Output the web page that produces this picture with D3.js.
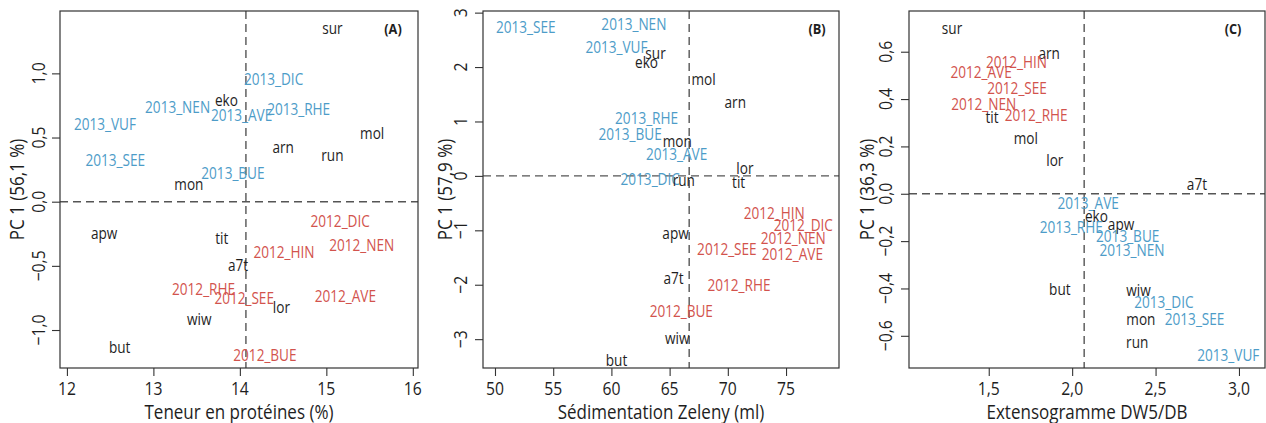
<!DOCTYPE html>
<html>
<head>
<meta charset="utf-8">
<script src="https://cdn.jsdelivr.net/npm/d3@7"></script>
<style>
  html, body { margin: 0; padding: 0; background: #fff; }
  svg { display: block; font-family: "Open Sans", sans-serif; }
</style>
</head>
<body>
<svg id="chart" width="1266" height="423"></svg>
<script>
// label, x, y  (PC 1 score)
const pointsA = [
  ["sur", 15.07, 1.358], ["2013_DIC", 14.39, 0.963], ["eko", 13.845, 0.797],
  ["2013_NEN", 13.28, 0.745], ["2013_AVE", 14.02, 0.683], ["2013_RHE", 14.68, 0.724],
  ["2013_VUF", 12.44, 0.61], ["mol", 15.53, 0.54], ["arn", 14.5, 0.428],
  ["run", 15.07, 0.366], ["2013_SEE", 12.56, 0.332], ["2013_BUE", 13.92, 0.225],
  ["mon", 13.41, 0.145], ["2012_DIC", 15.16, -0.148], ["apw", 12.43, -0.239],
  ["tit", 13.79, -0.28], ["2012_NEN", 15.41, -0.332], ["2012_HIN", 14.51, -0.39],
  ["a7t", 13.98, -0.493], ["2012_RHE", 13.58, -0.675], ["2012_SEE", 14.05, -0.748],
  ["2012_AVE", 15.22, -0.733], ["lor", 14.48, -0.818], ["wiw", 13.53, -0.909],
  ["but", 12.61, -1.13], ["2012_BUE", 14.29, -1.19]
];
const pointsB = [
  ["2013_SEE", 52.64, 2.75], ["2013_NEN", 61.93, 2.805], ["2013_VUF", 60.44, 2.38],
  ["sur", 63.79, 2.26], ["eko", 63.02, 2.11], ["mol", 67.92, 1.78],
  ["arn", 70.64, 1.37], ["2013_RHE", 63.02, 1.077], ["2013_BUE", 61.61, 0.77],
  ["mon", 65.65, 0.65], ["2013_AVE", 65.6, 0.415], ["lor", 71.47, 0.147],
  ["2013_DIC", 63.33, -0.055], ["run", 66.22, -0.068], ["tit", 70.93, -0.105],
  ["2012_HIN", 73.99, -0.669], ["2012_DIC", 76.48, -0.895], ["apw", 65.51, -1.048],
  ["2012_NEN", 75.62, -1.14], ["2012_SEE", 69.92, -1.33], ["2012_AVE", 75.54, -1.434],
  ["a7t", 65.34, -1.875], ["2012_RHE", 70.96, -1.998], ["2012_BUE", 66.0, -2.476],
  ["wiw", 65.65, -2.967], ["but", 60.44, -3.377]
];
const pointsC = [
  ["sur", 1.28, 0.703], ["arn", 1.862, 0.597], ["2012_HIN", 1.666, 0.558],
  ["2012_AVE", 1.454, 0.515], ["2012_SEE", 1.67, 0.447], ["2012_NEN", 1.47, 0.381],
  ["tit", 1.52, 0.325], ["2012_RHE", 1.784, 0.335], ["mol", 1.722, 0.236],
  ["lor", 1.896, 0.145], ["a7t", 2.748, 0.042], ["2013_AVE", 2.096, -0.038],
  ["eko", 2.145, -0.092], ["apw", 2.293, -0.127], ["2013_RHE", 1.995, -0.137],
  ["2013_BUE", 2.333, -0.177], ["2013_NEN", 2.359, -0.237], ["but", 1.926, -0.4],
  ["wiw", 2.398, -0.405], ["2013_DIC", 2.55, -0.456], ["mon", 2.412, -0.525],
  ["2013_SEE", 2.734, -0.529], ["run", 2.39, -0.625], ["2013_VUF", 2.936, -0.678]
];

// reference lines (mean of x, zero on PC 1)
const meansX = [14.07, 66.68, 2.072];

const ticksAX = [12, 13, 14, 15, 16];
const ticksAY = [-1.0, -0.5, 0.0, 0.5, 1.0];
const ticksBX = [50, 55, 60, 65, 70, 75];
const ticksBY = [-3, -2, -1, 0, 1, 2, 3];
const ticksCX = [1.5, 2.0, 2.5, 3.0];
const ticksCY = [-0.6, -0.4, -0.2, 0.0, 0.2, 0.4, 0.6];

const xTitles = ["Teneur en protéines (%)", "Sédimentation Zeleny (ml)", "Extensogramme DW5/DB"];
const yTitles = ["PC 1 (56,1 %)", "PC 1 (57,9 %)", "PC 1 (36,3 %)"];
const panelTags = ["(A)", "(B)", "(C)"];

const RED = "#d2534d";
const BLUE = "#4d9cc8";
const DARK = "#1e1e1e";
const SX = 0.85; // the original font is a narrow sans

const svg = d3.select("#chart");

function colorOf(name) {
  if (name.startsWith("2012")) return RED;
  if (name.startsWith("2013")) return BLUE;
  return DARK;
}

function label(g, x, y, s, size, opts = {}) {
  const rot = opts.rotate ? " rotate(-90)" : "";
  return g.append("text")
    .attr("transform", `translate(${x},${y})${rot} scale(${SX},1)`)
    .attr("text-anchor", opts.anchor || "middle")
    .attr("dominant-baseline", "central")
    .attr("font-size", size)
    .attr("font-weight", opts.bold ? "bold" : null)
    .attr("fill", opts.fill || DARK)
    .text(s);
}

const fmt1 = (d) => d3.format(".1f")(d).replace(".", ",").replace("-", "\u2212");
const fmt0 = (d) => String(d).replace("-", "\u2212");

const panels = [
  { pts: pointsA, left: 60, right: 418, xd: [11.92, 16.06], yd: [-1.296, 1.486],
    tx: ticksAX, ty: ticksAY, fx: fmt0, fy: fmt1, tickOff: 22, titleOff: 44, tagX: 393 },
  { pts: pointsB, left: 483, right: 839, xd: [48.97, 79.55], yd: [-3.53, 3.03],
    tx: ticksBX, ty: ticksBY, fx: fmt0, fy: fmt0, tickOff: 23, titleOff: 39, tagX: 817 },
  { pts: pointsC, left: 909, right: 1265, xd: [1.022, 3.156], yd: [-0.736, 0.772],
    tx: ticksCX, ty: ticksCY, fx: fmt1, fy: fmt1, tickOff: 24, titleOff: 43, tagX: 1233 }
];

const plotTop = 11, plotBottom = 368;

panels.forEach((p, i) => {
  const g = svg.append("g");
  const x = d3.scaleLinear().domain(p.xd).range([p.left, p.right]);
  const y = d3.scaleLinear().domain(p.yd).range([plotBottom, plotTop]);

  // dashed reference lines
  g.append("line")
    .attr("x1", x(meansX[i])).attr("x2", x(meansX[i]))
    .attr("y1", plotTop).attr("y2", plotBottom)
    .attr("stroke", "#555").attr("stroke-width", 1.4).attr("stroke-dasharray", "8,5");
  g.append("line")
    .attr("x1", p.left).attr("x2", p.right)
    .attr("y1", y(0)).attr("y2", y(0))
    .attr("stroke", "#555").attr("stroke-width", 1.4).attr("stroke-dasharray", "8,5");

  // box
  g.append("rect")
    .attr("x", p.left).attr("y", plotTop)
    .attr("width", p.right - p.left).attr("height", plotBottom - plotTop)
    .attr("fill", "none").attr("stroke", "#333").attr("stroke-width", 1.2);

  // axes (ticks only, labels drawn below so they can be narrowed)
  g.append("g")
    .attr("transform", `translate(0,${plotBottom})`)
    .call(d3.axisBottom(x).tickValues(p.tx).tickSize(8).tickFormat(""))
    .call((a) => a.select(".domain").remove())
    .call((a) => a.selectAll("line").attr("stroke", "#333").attr("stroke-width", 1.1));
  g.append("g")
    .attr("transform", `translate(${p.left},0)`)
    .call(d3.axisLeft(y).tickValues(p.ty).tickSize(8).tickFormat(""))
    .call((a) => a.select(".domain").remove())
    .call((a) => a.selectAll("line").attr("stroke", "#333").attr("stroke-width", 1.1));

  p.tx.forEach((v) => label(g, x(v), 388, p.fx(v), 18.5));
  p.ty.forEach((v) => label(g, p.left - p.tickOff, y(v), p.fy(v), 18.5, { rotate: true }));

  label(g, (p.left + p.right) / 2, 411, xTitles[i], 20);
  label(g, p.left - p.titleOff, (plotTop + plotBottom) / 2, yTitles[i], 20, { rotate: true });
  label(g, p.tagX, 28, panelTags[i], 15, { bold: true });

  // point labels
  p.pts.forEach(([name, vx, vy]) => {
    label(g, x(vx), y(vy), name, 16, { fill: colorOf(name) });
  });
});
</script>
</body>
</html>
